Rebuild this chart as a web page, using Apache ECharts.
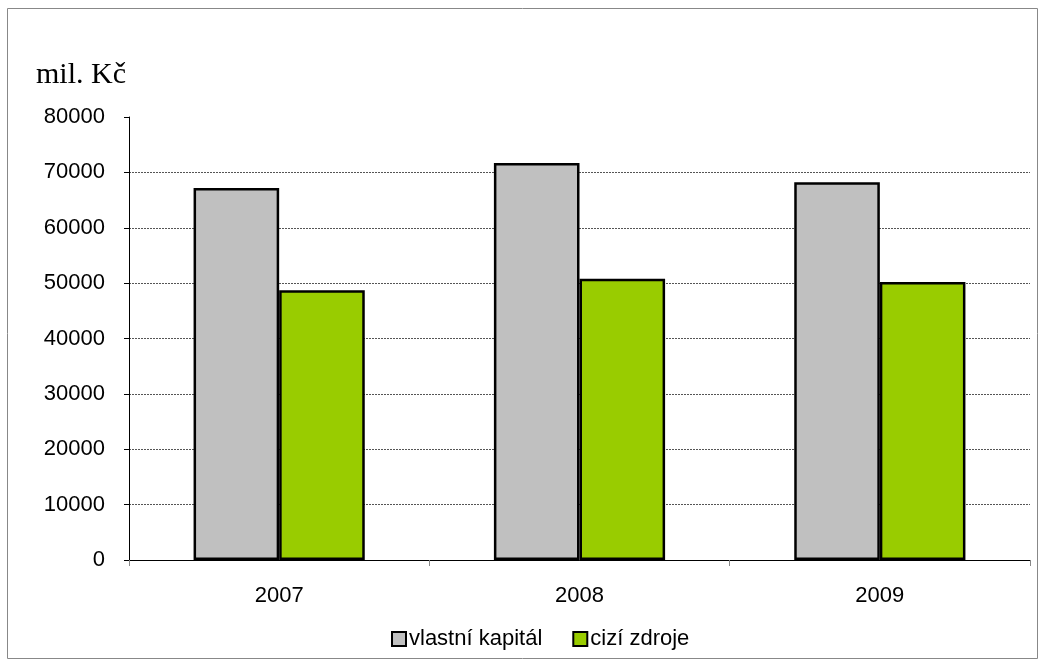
<!DOCTYPE html>
<html>
<head>
<meta charset="utf-8">
<script src="https://cdn.jsdelivr.net/npm/echarts@6/dist/echarts.min.js"></script>
<style>
  html, body { margin: 0; padding: 0; background: #fff; }
  #chart { width: 1045px; height: 665px; }
</style>
</head>
<body>
<div id="chart"></div>
<script>
// data
var years = ['2007', '2008', '2009'];
var vlastniKapital = [67200, 71700, 68200];
var ciziZdroje = [48700, 50800, 50200];
var seriesNames = ['vlastní kapitál', 'cizí zdroje'];

var chart = echarts.init(document.getElementById('chart'));

// grid line colours, last one (80000) left out like in the original
var gridColors = ['#555', '#555', '#555', '#555', '#555', '#555', '#555', '#555', 'rgba(0,0,0,0)'];

var option = {
  animation: false,
  textStyle: { fontFamily: '"Liberation Sans", Arial, sans-serif' },
  graphic: [
    {
      type: 'rect',
      shape: { x: 7.5, y: 8.5, width: 1030, height: 650 },
      style: { fill: 'none', stroke: '#888', lineWidth: 1 }
    }
  ],
  title: {
    text: 'mil. Kč',
    left: 31,
    top: 55,
    textStyle: {
      fontFamily: '"Liberation Serif", "Times New Roman", serif',
      fontSize: 30,
      fontWeight: 'normal',
      color: '#000'
    }
  },
  legend: {
    data: seriesNames,
    top: 623,
    left: 386,
    icon: 'rect',
    itemWidth: 14,
    itemHeight: 14,
    itemGap: 30,
    textStyle: { fontSize: 22, color: '#000', padding: [0, 0, 0, -2] },
    itemStyle: { borderColor: '#000', borderWidth: 2 }
  },
  grid: { left: 129, right: 15, top: 117, bottom: 105 },
  xAxis: {
    type: 'category',
    data: years,
    axisLine: { lineStyle: { color: '#000', width: 1 } },
    axisTick: { show: true, length: 6, lineStyle: { color: '#888' } },
    axisLabel: { fontSize: 22, color: '#000', margin: 25 }
  },
  yAxis: {
    type: 'value',
    min: 0,
    max: 80000,
    interval: 10000,
    axisLine: { show: true, lineStyle: { color: '#000', width: 1 } },
    axisTick: { show: true, length: 5, lineStyle: { color: '#000' } },
    axisLabel: { fontSize: 22, color: '#000', margin: 24, formatter: function (v) { return String(v); } },
    splitLine: { show: true, lineStyle: { color: gridColors, type: [2, 1], width: 1 } }
  },
  series: [
    {
      name: seriesNames[0],
      type: 'bar',
      data: vlastniKapital,
      barGap: '0%',
      barCategoryGap: '43%',
      itemStyle: { color: '#c0c0c0', borderColor: '#000', borderWidth: 2.5 }
    },
    {
      name: seriesNames[1],
      type: 'bar',
      data: ciziZdroje,
      itemStyle: { color: '#99cc00', borderColor: '#000', borderWidth: 2.5 }
    }
  ]
};

chart.setOption(option);
</script>
</body>
</html>
